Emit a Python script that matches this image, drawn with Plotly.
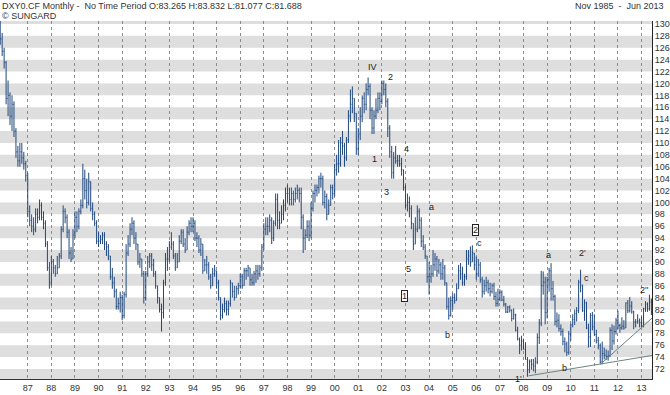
import plotly.graph_objects as go

# ---------------- data: DXY0.CF monthly OHLC, Nov 1985 .. Jun 2013 ----------------
opens = [
    130.5, 127.5,  # 1985 Nov-Dec
    125.4, 123.5, 117.5, 118.0, 114.5, 116.5, 112.0, 108.5, 107.0, 108.5, 107.5, 106.5,  # 1986
    104.5, 98.5, 97.0, 96.0, 95.5, 98.0, 97.5, 99.5, 97.5, 96.5, 93.0, 89.0,  # 1987
    86.5, 90.0, 89.0, 88.0, 89.0, 91.0, 95.5, 98.5, 97.5, 95.0, 91.5, 90.5,  # 1988
    94.5, 97.5, 96.0, 98.5, 99.5, 104.0, 102.0, 100.0, 103.5, 99.0, 98.0, 96.5,  # 1989
    93.5, 93.5, 93.8, 94.5, 93.0, 92.5, 91.0, 87.5, 86.5, 85.0, 82.5, 83.0,  # 1990
    84.0, 81.0, 84.5, 91.5, 93.0, 95.5, 96.5, 94.0, 93.0, 90.0, 90.5, 88.0,  # 1991
    84.0, 88.0, 90.0, 91.0, 89.5, 88.0, 86.0, 84.0, 82.0, 81.5, 86.5, 90.5,  # 1992
    90.5, 92.5, 93.0, 91.0, 89.0, 90.0, 93.5, 95.0, 93.0, 92.0, 95.0, 96.5,  # 1993
    96.0, 96.5, 94.0, 94.0, 92.0, 93.0, 88.5, 89.5, 89.5, 87.5, 86.0, 88.0,  # 1994
    88.5, 86.5, 84.0, 81.0, 82.0, 83.0, 82.0, 83.0, 86.5, 85.0, 84.0, 85.5,  # 1995
    86.0, 87.5, 86.0, 88.5, 88.5, 89.0, 87.0, 86.5, 88.0, 88.5, 88.0, 89.0,  # 1996
    92.5, 95.5, 96.0, 96.0, 97.0, 94.0, 96.5, 100.5, 97.0, 96.5, 98.0, 99.5,  # 1997
    101.5, 101.5, 100.5, 101.5, 100.5, 101.5, 102.0, 101.5, 97.5, 94.0, 94.5, 96.0,  # 1998
    94.5, 99.0, 101.5, 102.0, 102.5, 104.0, 104.0, 100.0, 101.0, 98.0, 99.5, 102.5,  # 1999
    101.5, 105.5, 106.5, 106.5, 110.0, 109.5, 107.5, 110.5, 114.5, 116.5, 117.5, 115.0,  # 2000
    109.0, 111.5, 114.5, 117.5, 116.5, 119.0, 119.5, 115.5, 112.5, 114.5, 115.5, 117.5,  # 2001
    117.0, 120.0, 119.0, 117.0, 112.5, 108.5, 105.0, 107.5, 107.0, 107.0, 106.5, 105.5,  # 2002
    102.5, 99.5, 100.0, 99.0, 96.5, 93.0, 95.5, 98.5, 97.0, 93.5, 92.5, 91.0,  # 2003
    87.5, 87.5, 88.0, 89.5, 90.5, 88.5, 89.5, 88.0, 89.0, 86.5, 82.5, 81.0,  # 2004
    83.5, 84.0, 83.5, 85.5, 88.5, 88.0, 86.5, 87.5, 90.5, 91.0, 90.0, 91.5,  # 2005
    89.5, 88.0, 89.5, 87.0, 85.0, 86.0, 86.5, 85.5, 85.0, 86.0, 84.2, 83.0,  # 2006
    83.7, 84.9, 83.6, 82.9, 81.6, 82.4, 81.9, 80.5, 81.1, 78.5, 77.0, 76.0,  # 2007
    76.7, 75.3, 73.6, 71.9, 73.3, 72.8, 72.5, 73.2, 77.3, 79.7, 86.0, 86.6,  # 2008
    81.5, 87.0, 88.5, 85.5, 84.2, 80.0, 80.2, 78.8, 78.3, 76.6, 76.2, 74.8,  # 2009
    77.9, 79.4, 80.3, 81.3, 81.8, 86.6, 86.0, 81.8, 83.1, 78.9, 77.4, 81.0,  # 2010
    79.1, 77.8, 76.8, 75.9, 73.2, 74.6, 74.3, 74.1, 74.2, 78.5, 76.7, 78.3,  # 2011
    80.2, 79.3, 78.9, 79.2, 78.9, 83.1, 81.8, 82.6, 81.6, 79.9, 79.9, 80.1,  # 2012
    79.8, 79.3, 82.1, 82.9, 82.1, 83.265,  # 2013 Jan-Jun
]
highs = [
    131.5, 128.5,
    126.0, 123.8, 120.5, 118.5, 118.0, 117.0, 112.5, 109.5, 110.0, 110.0, 108.5, 107.0,
    105.0, 99.5, 98.0, 97.5, 99.0, 99.0, 100.5, 100.0, 98.5, 97.0, 93.5, 90.0,
    91.0, 90.5, 89.5, 91.0, 91.5, 96.0, 99.5, 99.0, 98.0, 95.5, 92.5, 95.5,
    98.5, 98.5, 99.0, 100.5, 106.5, 105.5, 104.0, 105.0, 103.5, 100.0, 98.5, 97.0,
    95.0, 94.5, 95.0, 95.0, 93.5, 93.0, 91.0, 89.0, 87.5, 85.5, 84.0, 85.0,
    84.5, 85.0, 93.0, 94.5, 96.5, 97.5, 97.0, 95.0, 93.0, 91.5, 90.5, 88.5,
    88.5, 91.0, 91.5, 91.5, 90.5, 88.5, 86.0, 84.0, 83.0, 87.0, 91.5, 92.5,
    93.5, 95.0, 93.5, 91.5, 91.5, 94.5, 95.5, 95.5, 94.0, 96.0, 97.0, 97.5,
    97.5, 97.0, 95.0, 94.5, 94.0, 93.0, 90.5, 91.0, 90.0, 88.0, 89.0, 89.5,
    88.5, 87.0, 84.0, 83.0, 84.0, 83.5, 83.5, 87.0, 86.5, 86.0, 86.0, 86.5,
    88.0, 88.0, 89.0, 89.0, 89.5, 89.0, 88.0, 88.5, 89.5, 89.5, 89.5, 93.0,
    96.5, 97.5, 97.5, 98.0, 97.5, 97.0, 101.5, 101.5, 98.5, 99.5, 100.5, 102.5,
    103.0, 102.5, 102.5, 102.0, 102.5, 103.0, 102.5, 102.5, 98.0, 95.5, 97.0, 97.0,
    100.0, 102.0, 103.0, 103.0, 104.5, 105.0, 104.5, 102.0, 101.5, 100.5, 103.0, 103.0,
    106.5, 108.0, 110.5, 111.0, 112.0, 110.0, 111.0, 115.5, 119.0, 119.5, 117.5, 115.0,
    112.5, 116.0, 118.0, 118.5, 120.0, 121.0, 120.0, 116.0, 115.5, 117.5, 118.5, 118.5,
    120.5, 120.5, 120.0, 117.5, 113.0, 109.5, 108.5, 109.5, 108.0, 108.0, 107.5, 105.5,
    103.0, 101.5, 101.0, 99.5, 96.5, 97.5, 99.5, 99.0, 97.5, 94.5, 93.0, 91.0,
    90.0, 89.5, 92.0, 91.5, 91.0, 90.5, 90.0, 90.5, 89.5, 86.5, 84.0, 84.2,
    84.7, 84.7, 86.4, 89.5, 89.8, 89.2, 88.0, 92.0, 92.0, 92.6, 92.8, 91.5,
    90.9, 90.5, 90.0, 87.5, 87.0, 87.5, 87.0, 86.5, 86.4, 86.5, 85.0, 85.5,
    85.4, 85.2, 84.3, 83.1, 82.6, 82.7, 82.0, 82.2, 81.3, 79.1, 77.3, 77.6,
    77.1, 76.5, 74.0, 73.6, 73.7, 73.7, 74.0, 78.0, 80.4, 88.5, 88.4, 87.5,
    87.5, 89.0, 89.8, 86.8, 84.5, 81.5, 81.2, 79.5, 78.8, 77.3, 76.6, 78.4,
    79.6, 81.2, 82.0, 82.4, 87.0, 88.7, 86.2, 83.7, 83.3, 79.6, 81.4, 81.6,
    81.2, 78.6, 77.4, 76.3, 76.6, 75.6, 75.3, 75.1, 79.0, 79.5, 79.3, 80.6,
    81.8, 79.6, 80.7, 80.2, 83.2, 83.6, 84.1, 83.4, 81.8, 80.4, 81.2, 80.5,
    80.8, 82.3, 83.4, 83.2, 84.5, 83.832,
]
lows = [
    126.5, 124.6,
    122.5, 116.5, 114.5, 113.0, 112.0, 111.0, 107.5, 106.0, 106.0, 106.5, 105.5, 103.5,
    97.5, 96.0, 95.0, 94.5, 95.0, 96.5, 97.0, 97.0, 95.5, 92.5, 88.5, 85.5,
    86.0, 88.0, 87.5, 88.0, 89.0, 90.5, 95.0, 96.5, 94.0, 90.5, 90.0, 90.5,
    94.0, 95.0, 95.5, 98.0, 99.0, 100.5, 99.0, 99.5, 98.5, 97.0, 96.0, 93.0,
    92.5, 93.0, 93.0, 92.0, 91.0, 90.3, 87.0, 85.5, 84.0, 82.0, 82.0, 81.5,
    80.2, 80.5, 84.0, 91.0, 92.5, 94.5, 93.0, 92.0, 89.5, 89.0, 87.5, 83.0,
    83.5, 87.5, 89.0, 88.5, 87.5, 85.5, 83.0, 81.5, 78.3, 80.5, 86.0, 88.5,
    90.0, 92.0, 90.5, 88.5, 89.0, 90.0, 93.0, 92.5, 91.5, 92.0, 94.5, 95.0,
    95.0, 93.5, 92.5, 91.5, 91.0, 88.0, 88.5, 88.0, 87.0, 85.5, 86.0, 87.5,
    85.5, 83.5, 80.2, 80.5, 81.5, 81.0, 81.0, 82.5, 84.0, 83.5, 84.0, 84.5,
    85.5, 85.5, 86.0, 87.0, 87.5, 86.0, 86.0, 86.0, 86.5, 87.0, 87.5, 88.5,
    92.0, 94.5, 94.5, 95.0, 93.0, 93.5, 96.0, 95.5, 95.5, 96.5, 97.0, 98.5,
    100.0, 99.5, 99.5, 99.5, 100.0, 100.5, 100.0, 95.5, 91.5, 92.0, 94.0, 93.5,
    94.0, 98.5, 100.0, 101.0, 101.5, 102.5, 99.5, 99.0, 97.0, 98.0, 99.5, 100.5,
    101.0, 104.5, 105.0, 106.0, 108.0, 106.0, 107.0, 110.0, 113.5, 115.0, 113.5, 108.0,
    108.0, 110.5, 113.5, 115.0, 115.5, 118.0, 114.0, 111.5, 111.5, 114.0, 115.0, 115.5,
    116.5, 118.0, 116.0, 111.0, 107.5, 104.0, 104.0, 106.5, 106.0, 106.0, 104.5, 102.0,
    99.0, 98.5, 97.5, 95.5, 92.0, 93.0, 95.0, 95.5, 92.5, 92.0, 90.5, 86.5,
    84.5, 86.5, 87.5, 88.5, 87.5, 88.0, 87.0, 87.0, 86.0, 82.0, 80.3, 80.8,
    82.0, 83.0, 83.5, 85.5, 87.0, 86.0, 86.0, 87.0, 89.5, 89.2, 90.0, 88.6,
    87.0, 87.5, 86.5, 84.0, 84.5, 85.0, 84.7, 84.2, 84.7, 83.6, 82.5, 82.5,
    83.4, 83.4, 82.5, 81.4, 81.4, 81.5, 80.0, 80.3, 78.3, 76.8, 74.5, 75.1,
    75.3, 73.6, 70.7, 71.3, 71.9, 71.6, 71.3, 72.8, 76.2, 79.2, 84.5, 79.5,
    80.5, 85.0, 83.5, 83.5, 79.3, 79.0, 78.3, 77.6, 76.0, 74.8, 74.2, 74.4,
    76.8, 79.0, 79.4, 80.0, 81.4, 84.9, 81.6, 80.1, 78.7, 75.6, 75.7, 78.5,
    77.6, 76.3, 75.3, 72.9, 72.8, 73.6, 73.5, 73.4, 74.0, 75.2, 76.1, 77.8,
    78.7, 78.1, 78.6, 78.6, 78.9, 81.4, 81.5, 81.3, 78.7, 79.0, 79.6, 79.0,
    78.9, 79.0, 81.6, 81.6, 81.8, 81.077,
]
closes = [
    127.5, 125.4,
    123.5, 117.5, 118.0, 114.5, 116.5, 112.0, 108.5, 107.0, 108.5, 107.5, 106.5, 104.5,
    98.5, 97.0, 96.0, 95.5, 98.0, 97.5, 99.5, 97.5, 96.5, 93.0, 89.0, 86.5,
    90.0, 89.0, 88.0, 89.0, 91.0, 95.5, 98.5, 97.5, 95.0, 91.5, 90.5, 94.5,
    97.5, 96.0, 98.5, 99.5, 104.0, 102.0, 100.0, 103.5, 99.0, 98.0, 96.5, 93.5,
    93.5, 93.8, 94.5, 93.0, 92.5, 91.0, 87.5, 86.5, 85.0, 82.5, 83.0, 84.0,
    81.0, 84.5, 91.5, 93.0, 95.5, 96.5, 94.0, 93.0, 90.0, 90.5, 88.0, 84.0,
    88.0, 90.0, 91.0, 89.5, 88.0, 86.0, 84.0, 82.0, 81.5, 86.5, 90.5, 90.5,
    92.5, 93.0, 91.0, 89.0, 90.0, 93.5, 95.0, 93.0, 92.0, 95.0, 96.5, 96.0,
    96.5, 94.0, 94.0, 92.0, 93.0, 88.5, 89.5, 89.5, 87.5, 86.0, 88.0, 88.5,
    86.5, 84.0, 81.0, 82.0, 83.0, 82.0, 83.0, 86.5, 85.0, 84.0, 85.5, 86.0,
    87.5, 86.0, 88.5, 88.5, 89.0, 87.0, 86.5, 88.0, 88.5, 88.0, 89.0, 92.5,
    95.5, 96.0, 96.0, 97.0, 94.0, 96.5, 100.5, 97.0, 96.5, 98.0, 99.5, 101.5,
    101.5, 100.5, 101.5, 100.5, 101.5, 102.0, 101.5, 97.5, 94.0, 94.5, 96.0, 94.5,
    99.0, 101.5, 102.0, 102.5, 104.0, 104.0, 100.0, 101.0, 98.0, 99.5, 102.5, 101.5,
    105.5, 106.5, 106.5, 110.0, 109.5, 107.5, 110.5, 114.5, 116.5, 117.5, 115.0, 109.0,
    111.5, 114.5, 117.5, 116.5, 119.0, 119.5, 115.5, 112.5, 114.5, 115.5, 117.5, 117.0,
    120.0, 119.0, 117.0, 112.5, 108.5, 105.0, 107.5, 107.0, 107.0, 106.5, 105.5, 102.5,
    99.5, 100.0, 99.0, 96.5, 93.0, 95.5, 98.5, 97.0, 93.5, 92.5, 91.0, 87.5,
    87.5, 88.0, 89.5, 90.5, 88.5, 89.5, 88.0, 89.0, 86.5, 82.5, 81.0, 83.5,
    84.0, 83.5, 85.5, 88.5, 88.0, 86.5, 87.5, 90.5, 91.0, 90.0, 91.5, 89.5,
    88.0, 89.5, 87.0, 85.0, 86.0, 86.5, 85.5, 85.0, 86.0, 84.2, 83.0, 83.7,
    84.9, 83.6, 82.9, 81.6, 82.4, 81.9, 80.5, 81.1, 78.5, 77.0, 76.0, 76.7,
    75.3, 73.6, 71.9, 73.3, 72.8, 72.5, 73.2, 77.3, 79.7, 86.0, 86.6, 81.5,
    87.0, 88.5, 85.5, 84.2, 80.0, 80.2, 78.8, 78.3, 76.6, 76.2, 74.8, 77.9,
    79.4, 80.3, 81.3, 81.8, 86.6, 86.0, 81.8, 83.1, 78.9, 77.4, 81.0, 79.1,
    77.8, 76.8, 75.9, 73.2, 74.6, 74.3, 74.1, 74.2, 78.5, 76.7, 78.3, 80.2,
    79.3, 78.9, 79.2, 78.9, 83.1, 81.8, 82.6, 81.6, 79.9, 79.9, 80.1, 79.8,
    79.3, 82.1, 82.9, 82.1, 83.2, 81.688,
]

# x tick labels (two-digit years, each placed at January of that year)
year_labels = ["87", "88", "89", "90", "91", "92", "93", "94", "95", "96", "97", "98", "99",
               "00", "01", "02", "03", "04", "05", "06", "07", "08", "09", "10", "11", "12", "13"]
label_years = list(range(1987, 2014))
y_tick_values = list(range(72, 131, 2))

# Elliott-wave style annotations: text, month index (0 = Nov 1985), price
wave_text = ["IV", "2", "1", "3", "4", "a", "5", "c", "b", "a", "2'", "c", "b", "1'", "1''", "2''"]
wave_x = [189.3, 198.6, 190.3, 196.4, 206.5, 219.4, 207.7, 243.8, 227.5, 278.6, 296.0, 297.9, 287.0, 263.6, 308.3, 327.4]
wave_y = [122.8, 121.05, 107.3, 101.8, 109.0, 99.3, 88.8, 93.1, 77.8, 91.1, 91.5, 87.3, 72.1, 70.35, 70.2, 85.2]
boxed_text = ["1", "2"]
boxed_x = [205.3, 241.7]
boxed_y = [84.3, 95.4]

# trend lines (month index, price)
trend1_x = [268.5, 331.8]
trend1_y = [70.85, 74.3]
trend2_x = [305.0, 331.8]
trend2_y = [72.75, 80.7]

# ---------------- figure ----------------
month_index = list(range(len(closes)))
bar_color = "#21497f"
font_main = "Liberation Sans, Arial, sans-serif"

fig = go.Figure()
fig.add_trace(go.Ohlc(
    x=month_index, open=opens, high=highs, low=lows, close=closes,
    increasing=dict(line=dict(color=bar_color, width=1)),
    decreasing=dict(line=dict(color=bar_color, width=1)),
    tickwidth=0.35, hoverinfo="skip", showlegend=False,
))
trend_color = "#6b8583"
fig.add_trace(go.Scatter(x=trend1_x, y=trend1_y, mode="lines",
                         line=dict(color=trend_color, width=1), hoverinfo="skip", showlegend=False))
fig.add_trace(go.Scatter(x=trend2_x, y=trend2_y, mode="lines",
                         line=dict(color=trend_color, width=1), hoverinfo="skip", showlegend=False))

# alternating horizontal bands (grey from 4n+2 to 4n+4)
for v in range(70, 131, 4):
    fig.add_shape(type="rect", xref="paper", yref="y", x0=0, x1=1, y0=v, y1=v + 2,
                  fillcolor="#dedede", line=dict(width=0), layer="below")

for t, xv, yv in zip(wave_text, wave_x, wave_y):
    fig.add_annotation(x=xv, y=yv, xref="x", yref="y", text=t, showarrow=False,
                       font=dict(family=font_main, size=9, color="#222"))
for t, xv, yv in zip(boxed_text, boxed_x, boxed_y):
    fig.add_annotation(x=xv, y=yv, xref="x", yref="y", text=t, showarrow=False,
                       font=dict(family=font_main, size=9, color="#222"),
                       bordercolor="#222", borderwidth=1, borderpad=0, bgcolor="white")

fig.add_annotation(x=0, y=1.042, xref="paper", yref="paper", xanchor="left", yanchor="middle",
                   text="DXY0.CF Monthly -  No Time Period O:83.265 H:83.832 L:81.077 C:81.688",
                   showarrow=False, font=dict(family=font_main, size=9, color="#333"))
fig.add_annotation(x=0, y=1.015, xref="paper", yref="paper", xanchor="left", yanchor="middle",
                   text="© SUNGARD", showarrow=False, font=dict(family=font_main, size=9, color="#333"))
fig.add_annotation(x=1.0215, y=1.042, xref="paper", yref="paper", xanchor="right", yanchor="middle",
                   text="Nov 1985  -  Jun 2013", showarrow=False,
                   font=dict(family=font_main, size=9, color="#333"))

# January of each labelled year, as a month index from Nov 1985
tick_positions = [(yr - 1985) * 12 - 10 for yr in label_years]

fig.update_layout(
    width=670, height=395,
    margin=dict(l=0, r=18, t=21, b=16, autoexpand=False),
    paper_bgcolor="white", plot_bgcolor="white",
    showlegend=False,
    font=dict(family=font_main, size=9, color="#333"),
    xaxis=dict(
        range=[-0.1, 331.3], tickvals=tick_positions, ticktext=year_labels,
        showgrid=True, gridcolor="#8c8c8c", griddash="dot", gridwidth=1,
        showline=True, linecolor="#333", linewidth=1, ticks="",
        zeroline=False, rangeslider=dict(visible=False), automargin=False,
        tickfont=dict(family=font_main, size=9, color="#333"),
    ),
    yaxis=dict(
        side="right", range=[70.32, 130.5], tickvals=y_tick_values,
        showgrid=False, zeroline=False, automargin=False,
        showline=True, linecolor="#222", linewidth=1, ticks="",
        tickfont=dict(family=font_main, size=9, color="#333"),
    ),
)

fig.write_html("out.html", config={"displayModeBar": False},
               post_script="document.body.style.margin='0';document.body.style.padding='0';")
